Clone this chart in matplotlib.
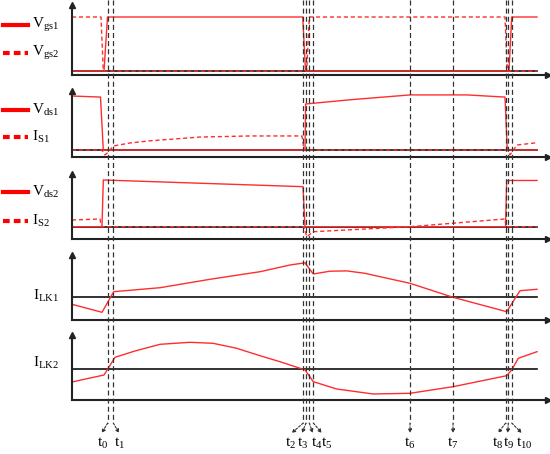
import matplotlib
matplotlib.use("Agg")
import matplotlib.pyplot as plt

plt.rcParams['font.family'] = ['Liberation Serif', 'DejaVu Serif']
plt.rcParams['mathtext.fontset'] = 'custom'
plt.rcParams['mathtext.rm'] = 'Liberation Serif'
plt.rcParams['mathtext.it'] = 'Liberation Serif:italic'

# time instants (common time axis)
event_times = [107.7, 113.3, 303.3, 306.0, 309.3, 313.3, 410.0, 453.0, 505.7, 508.3, 511.7]
event_labels = ['0', '1', '2', '3', '4', '5', '6', '7', '8', '9', '10']
# where each label arrow ends (time axis units)
label_pos = [102.5, 120.0, 290.5, 302.5, 316.5, 327.0, 410.0, 453.0, 497.5, 508.5, 524.5]
arrow_end = [101.7, 119.0, 291.7, 302.0, 312.7, 321.7, 410.0, 453.0, 498.0, 507.7, 521.7]

t_end = 537

# gate signals
vgs1_t = [72, 104, 107.5, 302.7, 305.5, 509, 511.7, 537]
vgs1_v = [0, 0, 1, 1, 0, 0, 1, 1]
vgs2_t = [72, 101, 103.3, 306.7, 309.3, 505, 507.3, 537]
vgs2_v = [1, 1, 0, 0, 1, 1, 0, 0]

# switch S1
vds1_t = [72, 100.5, 103.3, 305, 305.6, 350, 410, 467, 505, 507.3, 537]
vds1_v = [1.0, 0.98, 0, 0, 0.852, 0.93, 1.02, 1.02, 0.98, 0, 0]
is1_t = [72, 101.7, 105, 108.3, 113.3, 130, 150, 200, 250, 302, 304, 507, 510, 517, 537]
is1_v = [0, 0, -0.09, -0.04, 0.074, 0.13, 0.17, 0.24, 0.26, 0.26, 0, 0, -0.09, 0.093, 0.135]

# switch S2
vds2_t = [72, 102, 103.3, 303, 305, 505.5, 506.7, 537]
vds2_v = [0, 0, 1.0, 0.857, 0, 0, 0.99, 0.99]
is2_t = [72, 100, 101.5, 304, 306.7, 313.3, 410, 505, 506, 537]
is2_v = [0.143, 0.165, 0, 0, -0.214, -0.107, 0, 0.165, 0, 0]

# leakage inductor currents
ilk1_t = [72, 102, 113.7, 160, 210, 260, 290, 305, 313.3, 330, 346.7, 365, 380, 410, 453, 506.7, 520, 537]
ilk1_v = [-0.233, -0.5, 0.187, 0.32, 0.6, 0.853, 1.077, 1.15, 0.777, 0.87, 0.88, 0.8, 0.687, 0.467, 0, -0.48, 0.22, 0.267]
ilk2_t = [72, 104, 115, 135, 160, 190, 213, 236.7, 260, 280, 305, 313.3, 336.7, 373.3, 410, 453, 506.7, 511.7, 518.3, 537]
ilk2_v = [-0.423, -0.19, 0.4, 0.61, 0.833, 0.9, 0.867, 0.7, 0.453, 0.253, -0.02, -0.413, -0.657, -0.823, -0.8, -0.58, -0.213, -0.02, 0.367, 0.587]

W, H = 550, 454
red = '#ff2d2d'
axc = '#222222'

fig = plt.figure(figsize=(5.5, 4.54), dpi=100)

# panel layout in pixels: top, bottom, zero line, pixels per unit
panels = [(5, 75, 71, 54), (91, 157, 150, 54), (174, 238.7, 226.7, 46.7),
          (255, 320, 297.3, 30), (335, 400, 369.3, 30)]
axes = []
for top, bottom, zero, unit in panels:
    ax = fig.add_axes([72 / W, 1 - bottom / H, (548 - 72) / W, (bottom - top) / H])
    ax.set_xlim(72, 548)
    ax.set_ylim((zero - bottom) / unit, (zero - top) / unit)
    ax.set_xticks([])
    ax.set_yticks([])
    for s in ['top', 'right']:
        ax.spines[s].set_visible(False)
    for s in ['left', 'bottom']:
        ax.spines[s].set_linewidth(1.5)
        ax.spines[s].set_color(axc)
    ax.plot(1, 0, '>', color=axc, ms=4, transform=ax.transAxes, clip_on=False)
    ax.plot(0, 1, '^', color=axc, ms=4, transform=ax.transAxes, clip_on=False)
    ax.plot([72, t_end], [0, 0], color='#111111', lw=1.2)
    axes.append(ax)

dash = (0, (3, 2))
axes[0].plot(vgs1_t, vgs1_v, color=red, lw=1.0)
axes[0].plot(vgs2_t, vgs2_v, color=red, lw=1.0, ls=dash)
axes[1].plot(vds1_t, vds1_v, color=red, lw=1.0)
axes[1].plot(is1_t, is1_v, color=red, lw=1.0, ls=dash)
axes[2].plot(vds2_t, vds2_v, color=red, lw=1.0)
axes[2].plot(is2_t, is2_v, color=red, lw=1.0, ls=dash)
axes[3].plot(ilk1_t, ilk1_v, color=red, lw=1.0)
axes[4].plot(ilk2_t, ilk2_v, color=red, lw=1.0)

# overlay in pixel coordinates for the time markers and the labels
ov = fig.add_axes([0, 0, 1, 1], zorder=10)
ov.set_xlim(0, W)
ov.set_ylim(H, 0)
ov.axis('off')
ov.patch.set_alpha(0)

for t, lab, lp, ae in zip(event_times, event_labels, label_pos, arrow_end):
    ov.plot([t, t], [0, 423], color='#333333', lw=0.9, ls=(0, (4, 2.5)))
    ov.annotate('', xy=(ae, 433), xytext=(t, 423),
                arrowprops=dict(arrowstyle='-|>', color='#333333', lw=0.8,
                                ls=(0, (2, 1.5)), mutation_scale=5,
                                shrinkA=0, shrinkB=0))
    ov.text(lp, 443, r't$_{\mathrm{%s}}$' % lab, fontsize=11, ha='center', va='center')

# left-hand labels
legend_rows = [(25, '-', r'V$_{\mathrm{gs1}}$'), (53, '--', r'V$_{\mathrm{gs2}}$'),
               (109.5, '-', r'V$_{\mathrm{ds1}}$'), (137, '--', r'I$_{\mathrm{S1}}$'),
               (191.7, '-', r'V$_{\mathrm{ds2}}$'), (221, '--', r'I$_{\mathrm{S2}}$')]
for y, style, txt in legend_rows:
    ov.plot([3, 28], [y, y], color='#ff0000', lw=3, ls='-' if style == '-' else (0, (1.6, 1.0)))
    ov.text(32, y, txt, fontsize=11, ha='left', va='center')
ov.text(33, 296, r'I$_{\mathrm{LK1}}$', fontsize=11, ha='left', va='center')
ov.text(33, 363, r'I$_{\mathrm{LK2}}$', fontsize=11, ha='left', va='center')

fig.savefig('out.png', dpi=100, facecolor='white')
